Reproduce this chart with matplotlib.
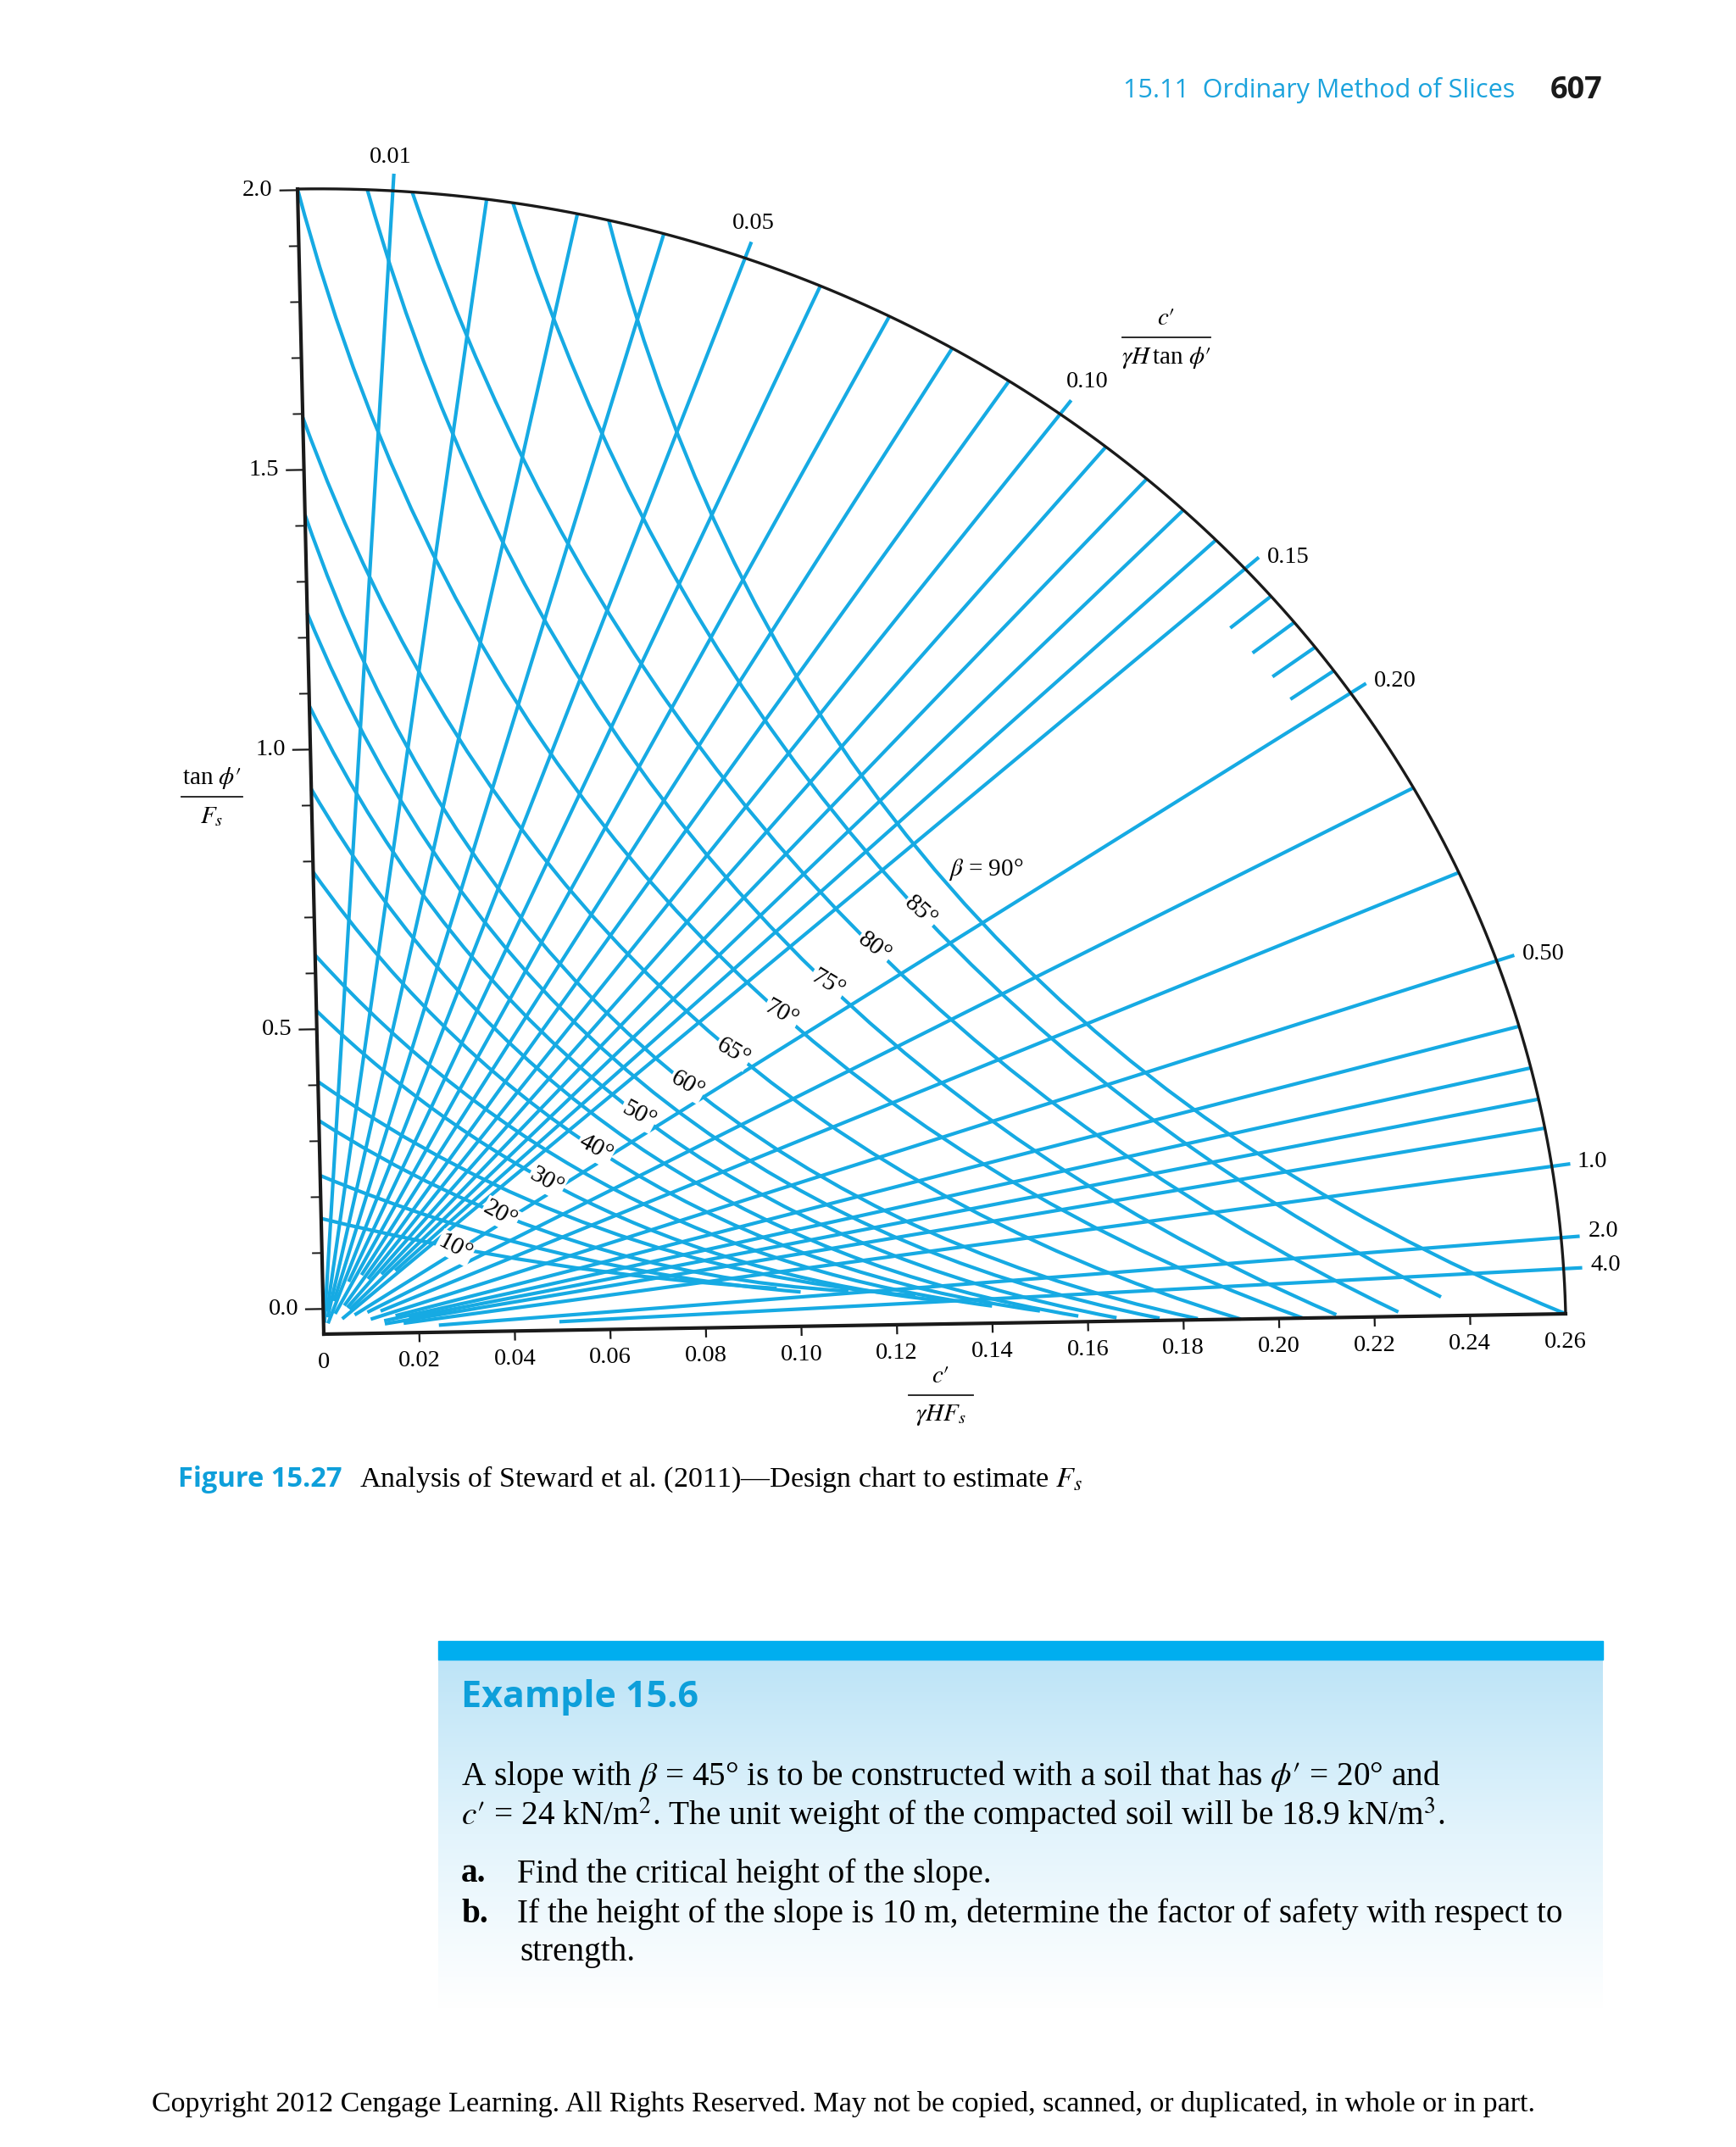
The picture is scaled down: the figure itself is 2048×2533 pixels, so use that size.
import numpy as np
import matplotlib
matplotlib.use("Agg")
import matplotlib.pyplot as plt
from matplotlib.transforms import Affine2D
from matplotlib.path import Path
from matplotlib.patches import PathPatch, Rectangle
from matplotlib.colors import LinearSegmentedColormap

plt.rcParams['mathtext.fontset'] = 'stix'
plt.rcParams['font.family'] = ['Liberation Serif', 'DejaVu Serif']

# ------------------------------------------------------------------ data
x_tick_vals = [0.02, 0.04, 0.06, 0.08, 0.10, 0.12, 0.14, 0.16, 0.18, 0.20, 0.22, 0.24]
x_label_vals = [0.0, 0.02, 0.04, 0.06, 0.08, 0.10, 0.12, 0.14, 0.16, 0.18, 0.20, 0.22, 0.24, 0.26]
x_label_txt = ['0', '0.02', '0.04', '0.06', '0.08', '0.10', '0.12', '0.14', '0.16',
               '0.18', '0.20', '0.22', '0.24', '0.26']
y_major_vals = [0.0, 0.5, 1.0, 1.5, 2.0]
y_major_txt = ['0.0', '0.5', '1.0', '1.5', '2.0']
y_minor_vals = [0.1, 0.2, 0.3, 0.4, 0.6, 0.7, 0.8, 0.9, 1.1, 1.2, 1.3, 1.4, 1.6, 1.7, 1.8, 1.9]

# c'/(gamma H tan phi') lines: nominal value, drawn slope (x/y) and start fraction
lam_values = [0.01, 0.02, 0.03, 0.04, 0.05, 0.06, 0.07, 0.08, 0.09, 0.10,
              0.11, 0.12, 0.13, 0.14, 0.15, 0.16, 0.17, 0.18, 0.19, 0.20,
              0.3, 0.4, 0.5, 0.6, 0.7, 0.8, 0.9, 1.0, 2.0, 4.0]
lam_drawn = [0.01, 0.02, 0.03, 0.04, 0.05, 0.06, 0.07, 0.08, 0.09, 0.10,
             0.11, 0.12, 0.13, 0.14, 0.15, 0.16, 0.17, 0.18, 0.19, 0.20,
             0.25, 0.31, 0.40, 0.50, 0.59, 0.68, 0.79, 1.0, 1.95, 3.3]
lam_start = [0.01, 0.02, 0.015, 0.03, 0.01, 0.05, 0.02, 0.06, 0.03, 0.06,
             0.03, 0.07, 0.03, 0.08, 0.02, 0.957, 0.957, 0.957, 0.957, 0.03,
             0.04, 0.05, 0.04, 0.06, 0.05, 0.07, 0.05, 0.065, 0.093, 0.19]
lam_label = {0.01: '0.01', 0.05: '0.05', 0.10: '0.10', 0.15: '0.15', 0.20: '0.20',
             0.5: '0.50', 1.0: '1.0', 2.0: '2.0', 4.0: '4.0'}

# slope angle curves: start point, point at label, end point (chart units)
beta_deg = [10, 15, 20, 25, 30, 35, 40, 45, 50, 55, 60, 65, 70, 75, 80, 85, 90]
beta_x0 = [0, 0, 0, 0, 0, 0, 0, 0, 0, 0, 0, 0, 0, 0.0146, 0.024, 0.045, 0.065]
beta_y0 = [0.202, 0.277, 0.373, 0.441, 0.565, 0.662, 0.807, 0.952, 1.097, 1.259,
           1.431, 1.601, 2.0, 1.997, 1.991, 1.970, 1.936]
beta_xm = [0.0279, 0.0327, 0.0375, 0.0425, 0.0474, 0.0525, 0.0577, 0.0623, 0.0669,
           0.0720, 0.0773, 0.0870, 0.0973, 0.1071, 0.1170, 0.1268, 0.1326]
beta_ym = [0.147, 0.175, 0.204, 0.232, 0.261, 0.288, 0.316, 0.345, 0.374, 0.400,
           0.425, 0.481, 0.546, 0.597, 0.659, 0.720, 0.768]
beta_x1 = [0.095, 0.100, 0.110, 0.124, 0.130, 0.140, 0.150, 0.158, 0.166, 0.175,
           0.183, 0.192, 0.205, 0.212, 0.225, 0.234, 0.26]
beta_y1 = [0.067, 0.060, 0.060, 0.050, 0.040, 0.030, 0.020, 0.010, 0.006, 0.004,
           0.002, 0.0, 0.0, 0.005, 0.008, 0.033, 0.0]
beta_labeled = [10, 20, 30, 40, 50, 60, 65, 70, 75, 80, 85]
beta_label_rot = {10: -28, 20: -29, 30: -29, 40: -29, 50: -28, 60: -30, 65: -31,
                  70: -29, 75: -31, 80: -37, 85: -42}

# ------------------------------------------------------------------ page
W, H = 2048, 2533
fig = plt.figure(figsize=(W / 100, H / 100), dpi=100)
ax = fig.add_axes([0, 0, 1, 1])
ax.set_xlim(0, W)
ax.set_ylim(H, 0)
ax.axis('off')

BLUE = '#16AAE3'
INK = '#1a1a1a'
A_X, A_Y = 0.26, 2.0

# chart frame (slightly rotated/sheared scan) -> page pixels
frame = Affine2D.from_values(5634.6, -92.3, -15.5, -675.5, 382.0, 1574.0)
chart = frame + ax.transData
ytick_tf = Affine2D().scale(1.0, 0.977).translate(0.0, 0.044) + chart

# boundary arc and axes
t = np.linspace(0, np.pi / 2, 300)
ax.plot(A_X * np.sin(t), A_Y * np.cos(t), color=INK, lw=2.4, transform=chart,
        solid_capstyle='butt', zorder=4)
ax.plot([0, 0], [0, A_Y], color=INK, lw=3.0, transform=chart, zorder=4)
ax.plot([0, A_X], [0, 0], color=INK, lw=3.0, transform=chart, zorder=4)

# y ticks
for v, s in zip(y_major_vals, y_major_txt):
    ax.plot([-0.0036, 0], [v, v], color=INK, lw=1.6, transform=ytick_tf)
    ax.annotate(s, xy=(0, v), xycoords=ytick_tf, xytext=(-21, 0),
                textcoords='offset points', ha='right', va='center', fontsize=20.5)
for v in y_minor_vals:
    ax.plot([-0.0019, 0], [v, v], color=INK, lw=1.4, transform=ytick_tf)

# x ticks
for v in x_tick_vals:
    ax.plot([v, v], [0, -0.015], color=INK, lw=1.6, transform=chart)
for v, s in zip(x_label_vals, x_label_txt):
    ax.annotate(s, xy=(v, 0), xycoords=chart, xytext=(0, -24),
                textcoords='offset points', ha='center', va='center', fontsize=20.5)

# lambda lines
lab_off = {0.01: (-3, 14, 'center'), 0.05: (2, 16, 'center'), 0.10: (14, 16, 'center'),
           0.15: (7, 0, 'left'), 0.20: (7, 2, 'left'), 0.5: (7, 1, 'left'),
           1.0: (6, 2, 'left'), 2.0: (7, 4, 'left'), 4.0: (7, 2, 'left')}
for lv, r, s in zip(lam_values, lam_drawn, lam_start):
    k = r * A_Y / A_X
    xe, ye = A_X * k / np.sqrt(1 + k * k), A_Y / np.sqrt(1 + k * k)
    ext = 1.015 if lv in lam_label else 1.0
    ax.plot([s * xe, ext * xe], [s * ye, ext * ye], color=BLUE, lw=3.0,
            transform=chart, solid_capstyle='butt', zorder=2)
    if lv in lam_label:
        dx, dy, ha = lab_off[lv]
        ax.annotate(lam_label[lv], xy=(ext * xe, ext * ye), xycoords=chart,
                    xytext=(dx, dy), textcoords='offset points', ha=ha,
                    va='center', fontsize=20.5)

# beta curves (quadratic through three read points)
def curve_path(p0, pm, p2):
    p0, pm, p2 = np.asarray(p0, float), np.asarray(pm, float), np.asarray(p2, float)
    P = frame.transform(np.array([p0, pm, p2]))
    d1 = np.hypot(*(P[1] - P[0]))
    d2 = np.hypot(*(P[2] - P[1]))
    tt = d1 / (d1 + d2)
    c = (pm - (1 - tt) ** 2 * p0 - tt ** 2 * p2) / (2 * tt * (1 - tt))
    return Path([p0, c, p2], [Path.MOVETO, Path.CURVE3, Path.CURVE3])

for b, x0, y0, xm, ym, x1, y1 in zip(beta_deg, beta_x0, beta_y0, beta_xm, beta_ym,
                                     beta_x1, beta_y1):
    pp = PathPatch(curve_path((x0, y0), (xm, ym), (x1, y1)), fill=False,
                   edgecolor=BLUE, lw=3.0, transform=chart, zorder=2)
    ax.add_patch(pp)
    if b in beta_labeled:
        ax.annotate(f'{b}°', xy=(xm, ym), xycoords=chart, ha='center', va='center',
                    rotation=beta_label_rot[b], fontsize=21, zorder=5,
                    bbox=dict(boxstyle='square,pad=0.05', fc='white', ec='none'))
    if b == 90:
        ax.annotate(r'$\beta$ = 90°', xy=(xm, ym), xycoords=chart, xytext=(1, 12),
                    textcoords='offset points', ha='left', va='center', fontsize=21,
                    zorder=5)

# axis titles (fractions)
def frac(xc, yc, top, bot, half, size=21):
    ax.text(xc, yc - 22, top, ha='center', va='center', fontsize=size)
    ax.plot([xc - half, xc + half], [yc, yc], color=INK, lw=1.3)
    ax.text(xc, yc + 24, bot, ha='center', va='center', fontsize=size)

frac(250, 940, r"tan $\phi\prime$", r'$F_s$', 36)
frac(1110, 1646, r"$c\prime$", r'$\gamma H F_s$', 38)
frac(1376, 398, r"$c\prime$", r"$\gamma H\,$tan $\phi\prime$", 52)

# page header
ax.text(1787, 107, '15.11  Ordinary Method of Slices', ha='right', va='center',
        fontsize=22, color='#1BA3DD', family=['Open Sans', 'DejaVu Sans'])
ax.text(1891, 107, '607', ha='right', va='center', fontsize=26, fontweight='bold',
        color=INK, family=['Open Sans', 'DejaVu Sans'])

# caption
ax.text(210, 1745, 'Figure 15.27', ha='left', va='center', fontsize=23.5,
        fontweight='bold', color='#0E9FDA', family=['Open Sans', 'DejaVu Sans'])
ax.text(424, 1745, r'Analysis of Steward et al. (2011)—Design chart to estimate $F_s$',
        ha='left', va='center', fontsize=24.5)

# example box
grad = np.linspace(0, 1, 256).reshape(-1, 1)
cmap = LinearSegmentedColormap.from_list('g', ['#BDE4F7', '#E3F4FC', '#FFFFFF'])
ax.imshow(grad, extent=(517, 1891, 2370, 1957), aspect='auto', cmap=cmap, zorder=0)
ax.add_patch(Rectangle((517, 1936), 1374, 22, color='#00AEEF', zorder=1))
ax.text(544, 2003, 'Example 15.6', ha='left', va='center', fontsize=31,
        fontweight='bold', color='#0E9FDA', family=['Open Sans', 'DejaVu Sans'])
BODY = 28.3
ax.text(544, 2096, r"A slope with $\beta$ = 45° is to be constructed with a soil that has $\phi\prime$ = 20° and",
        ha='left', va='center', fontsize=BODY)
ax.text(544, 2141, r"$c\prime$ = 24 kN/m$^2$. The unit weight of the compacted soil will be 18.9 kN/m$^3$.",
        ha='left', va='center', fontsize=BODY)
ax.text(544, 2211, 'a.', ha='left', va='center', fontsize=BODY, fontweight='bold')
ax.text(610, 2211, 'Find the critical height of the slope.', ha='left', va='center',
        fontsize=BODY)
ax.text(544, 2258, 'b.', ha='left', va='center', fontsize=BODY, fontweight='bold')
ax.text(610, 2258, 'If the height of the slope is 10 m, determine the factor of safety with respect to',
        ha='left', va='center', fontsize=BODY)
ax.text(613, 2304, 'strength.', ha='left', va='center', fontsize=BODY)

# footer
ax.text(179, 2482, 'Copyright 2012 Cengage Learning. All Rights Reserved. May not be copied, scanned, or duplicated, in whole or in part.',
        ha='left', va='center', fontsize=24.5)

ax.set_xlim(0, W)
ax.set_ylim(H, 0)
fig.savefig('out.png', dpi=100)
